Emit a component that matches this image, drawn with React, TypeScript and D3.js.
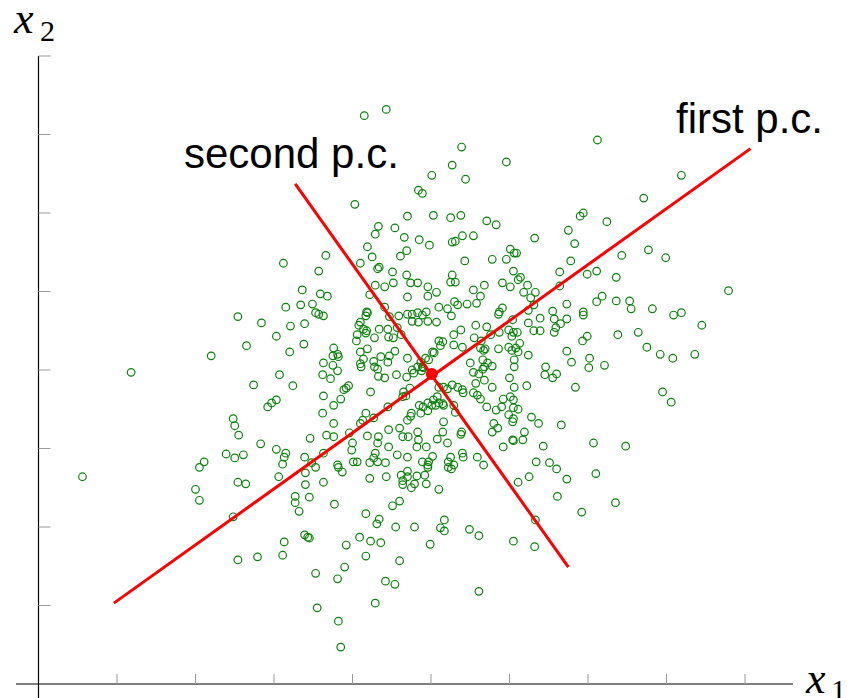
import React, { useEffect, useRef } from "react";
import * as d3 from "d3";

// sample coordinates (axis units, one tick = 1)
const x1Values = [
  3.12, 4.15, 4.43, 5.39, 5.27, 5.96, 5.01, 5.44, 4.84, 4.89,
  4.03, 4.70, 5.03, 5.25, 5.38, 5.71, 5.83, 4.33, 4.29, 4.54,
  4.66, 4.85, 4.98, 5.27, 5.31, 5.40, 5.54, 3.66, 4.19, 4.25,
  4.10, 4.61, 4.69, 4.34, 4.32, 3.57, 4.51, 4.69, 5.27, 5.43,
  5.78, 5.96, 6.01, 6.06, 6.09, 6.05, 7.12, 8.19, 7.71, 6.90,
  6.94, 7.24, 6.75, 6.32, 6.83, 6.78, 7.43, 7.77, 7.99, 6.64,
  6.99, 7.11, 7.36, 6.14, 1.18, 2.20, 2.54, 2.84, 3.15, 3.03,
  2.65, 3.21, 3.20, 3.07, 3.24, 2.74, 3.03, 2.97, 2.92, 2.48,
  2.50, 2.55, 2.83, 3.03, 3.15, 3.13, 3.11, 2.39, 2.50, 2.61,
  2.11, 2.05, 0.56, 2.00, 2.05, 2.54, 2.64, 3.06, 2.48, 3.13,
  3.11, 2.79, 2.54, 3.40, 3.40, 3.27, 3.27, 3.32, 3.45, 3.63,
  3.77, 3.53, 3.82, 3.87, 4.01, 4.06, 4.22, 4.32, 4.42, 4.22,
  4.43, 4.62, 4.70, 4.70, 4.64, 4.64, 4.75, 4.79, 4.82, 4.92,
  4.96, 4.94, 5.10, 5.22, 5.26, 5.67, 6.11, 4.60, 4.51, 4.17,
  4.34, 4.31, 4.55, 4.79, 5.17, 5.12, 5.17, 5.49, 5.61, 6.05,
  3.39, 3.43, 3.45, 4.09, 4.23, 4.36, 3.92, 4.99, 4.17, 4.60,
  3.90, 3.53, 3.81, 4.42, 4.54, 5.61, 3.55, 4.29, 3.82, 3.85,
  6.34, 6.51, 6.60, 6.25, 6.73, 7.10, 6.61, 7.35, 6.92, 6.33,
  6.32, 8.79, 7.18, 7.11, 7.36, 7.53, 7.55, 7.82, 8.09, 8.19,
  8.45, 6.73, 6.64, 6.55, 6.39, 6.57, 6.73, 6.65, 6.59, 6.57,
  6.94, 6.94, 6.99, 6.93, 7.38, 7.64, 7.75, 7.92, 8.08, 8.36,
  6.24, 6.31, 6.39, 6.24, 6.73, 6.79, 7.02, 7.01, 7.21, 6.46,
  6.45, 6.55, 6.60, 6.84, 6.22, 7.95, 8.06, 6.28, 6.37, 6.66,
  6.05, 6.19, 6.17, 6.05, 6.43, 7.07, 7.48, 6.05, 6.06, 6.18,
  6.27, 6.33, 6.31, 6.24, 6.23, 6.11, 6.05, 6.10, 6.04, 6.01,
  6.06, 6.06, 6.13, 3.36, 3.59, 3.68, 3.34, 3.49, 3.53, 3.57,
  3.63, 3.39, 3.38, 4.29, 4.41, 4.52, 4.22, 4.74, 4.83, 4.96,
  5.07, 5.25, 5.31, 5.54, 5.63, 5.68, 5.91, 4.70, 4.96, 5.30,
  5.34, 5.46, 5.58, 5.10, 5.21, 5.91, 5.86, 4.41, 4.18, 4.19,
  4.17, 4.47, 4.59, 4.70, 4.76, 4.83, 4.89, 4.94, 4.76, 4.84,
  4.96, 5.07, 5.26, 4.10, 4.08, 4.14, 4.18, 4.17, 4.06, 4.05,
  4.34, 4.45, 4.57, 4.28, 4.46, 4.52, 4.62, 5.57, 5.71, 5.76,
  5.87, 5.87, 5.29, 5.38, 5.10, 5.15, 5.12, 5.29, 5.40, 5.02,
  5.04, 4.87, 4.93, 4.97, 4.89, 5.55, 5.64, 5.63, 5.67, 5.69,
  5.86, 5.99, 6.03, 5.99, 6.03, 6.08, 6.11, 3.76, 3.75, 3.81,
  3.82, 3.63, 3.75, 3.81, 3.72, 3.62, 4.10, 4.19, 4.14, 4.11,
  4.10, 4.27, 4.32, 4.28, 4.36, 4.33, 4.41, 4.45, 4.47, 4.54,
  4.70, 4.56, 4.69, 4.76, 4.83, 4.78, 4.88, 4.90, 4.65, 4.73,
  4.64, 4.68, 5.10, 5.16, 5.21, 5.27, 5.34, 5.40, 5.41, 5.08,
  5.03, 5.10, 5.16, 5.29, 5.31, 5.54, 5.59, 5.57, 5.68, 5.50,
  5.66, 5.54, 5.61, 5.66, 5.68, 5.72, 5.78, 6.00, 6.01, 5.92,
  5.90, 5.83, 5.71, 5.78, 5.63, 5.80, 5.85, 5.99, 6.05, 6.11,
  6.04, 5.78, 5.39, 5.38, 5.16, 5.15, 5.21, 5.08, 4.85, 4.90,
  4.96, 5.01, 5.06, 5.15, 4.96, 4.87, 4.75, 4.74, 4.70, 4.60,
  4.64, 4.71, 4.83, 4.84, 4.82, 4.94, 5.02, 4.97, 5.25, 5.22,
  5.29, 5.40, 5.41, 5.92, 6.04, 5.59, 4.45, 4.23, 3.85, 3.76,
  3.63, 3.62, 3.92, 3.95, 3.89, 3.76, 4.17, 4.13, 4.10, 4.27,
  4.33, 4.32, 4.46, 4.19, 3.67, 3.76, 3.96, 4.00, 3.99, 3.46,
  3.39, 3.48, 3.63, 3.81, 4.29, 4.27, 4.46, 4.57, 4.70, 4.96,
  4.89,
];

const x2Values = [
  5.36, 7.24, 7.32, 6.84, 6.61, 6.65, 6.48, 6.43, 6.29, 6.25,
  6.11, 5.96, 5.97, 5.94, 5.97, 5.90, 5.85, 5.83, 5.73, 5.81,
  5.69, 5.66, 5.59, 5.63, 5.64, 5.71, 5.71, 5.46, 5.57, 5.44,
  5.36, 5.45, 5.52, 5.31, 5.29, 5.26, 5.25, 5.21, 5.21, 5.39,
  5.41, 5.41, 5.54, 5.49, 5.49, 5.26, 6.93, 6.48, 6.19, 5.96,
  6.00, 5.89, 5.78, 5.68, 5.61, 5.39, 5.46, 5.53, 5.43, 5.25,
  5.22, 5.26, 5.18, 5.18, 3.97, 4.18, 4.68, 4.60, 4.80, 4.43,
  4.31, 4.56, 4.23, 3.94, 3.80, 3.81, 3.62, 3.58, 3.53, 3.38,
  3.29, 3.17, 3.06, 2.99, 2.94, 2.89, 2.80, 2.93, 2.88, 2.92,
  2.83, 2.76, 2.64, 2.48, 2.34, 2.57, 2.55, 2.64, 2.13, 1.81,
  1.64, 1.62, 1.58, 2.69, 2.54, 2.39, 2.31, 2.20, 2.38, 2.57,
  2.29, 2.76, 2.76, 2.70, 2.83, 2.83, 2.82, 2.83, 2.82, 2.62,
  2.64, 2.66, 2.71, 2.64, 2.59, 2.54, 2.50, 2.55, 2.65, 2.66,
  2.76, 2.55, 2.48, 2.76, 2.74, 2.79, 2.57, 2.33, 2.27, 2.17,
  2.10, 2.04, 2.00, 2.00, 2.09, 1.99, 1.95, 1.97, 1.89, 1.82,
  1.90, 1.87, 1.86, 1.87, 1.82, 1.80, 1.77, 1.78, 1.63, 1.57,
  1.49, 1.41, 1.34, 1.31, 1.27, 1.18, 0.97, 1.03, 0.80, 0.47,
  2.83, 2.82, 2.74, 2.64, 2.61, 2.68, 2.39, 2.31, 2.19, 2.09,
  1.75, 5.01, 4.94, 4.87, 4.88, 4.88, 4.78, 4.78, 4.70, 4.73,
  4.57, 4.84, 5.07, 4.75, 4.66, 4.65, 4.65, 4.59, 4.54, 4.48,
  4.74, 4.70, 4.43, 4.37, 4.45, 4.48, 4.29, 4.20, 4.15, 4.20,
  4.60, 4.50, 4.50, 4.19, 4.24, 4.10, 4.15, 4.03, 4.06, 4.04,
  3.94, 3.90, 3.95, 3.78, 3.80, 3.72, 3.59, 3.40, 3.32, 3.30,
  3.38, 3.21, 3.11, 3.10, 3.03, 3.07, 3.03, 3.62, 3.78, 4.99,
  4.92, 4.99, 4.83, 4.76, 5.08, 5.15, 4.48, 4.48, 4.64, 5.06,
  4.04, 4.13, 4.34, 5.02, 4.97, 4.94, 4.83, 4.84, 4.73, 4.71,
  4.69, 4.59, 4.33, 5.08, 5.06, 5.11, 4.96, 5.11, 5.11, 5.06,
  4.99, 5.12, 5.12, 5.02, 4.94, 5.08, 5.11, 4.93, 4.94, 4.87,
  4.83, 4.84, 4.85, 4.80, 4.78, 4.79, 4.71, 4.80, 4.74, 4.73,
  4.69, 4.68, 4.69, 4.71, 4.71, 4.73, 4.70, 4.74, 4.62, 4.61,
  4.62, 4.61, 4.69, 4.61, 4.57, 4.52, 4.50, 4.47, 4.45, 4.37,
  4.52, 4.52, 4.54, 4.41, 4.42, 4.41, 4.45, 4.57, 4.55, 4.45,
  4.48, 4.74, 4.45, 4.51, 4.37, 4.36, 4.31, 4.32, 4.29, 4.23,
  4.22, 4.10, 4.15, 4.13, 4.04, 4.41, 4.37, 4.28, 4.25, 4.27,
  4.27, 4.51, 4.43, 4.29, 4.25, 4.28, 4.23, 4.28, 4.18, 4.20,
  4.17, 4.09, 4.06, 3.99, 3.89, 3.94, 4.23, 4.27, 4.14, 4.04,
  4.08, 4.11, 4.01, 4.04, 4.17, 3.92, 3.90, 4.10, 4.18, 4.24,
  4.15, 3.94, 3.91, 4.00, 4.04, 3.96, 3.99, 4.03, 3.72, 3.77,
  3.66, 3.67, 3.78, 3.78, 3.76, 3.81, 3.78, 3.75, 3.71, 3.66,
  3.62, 3.58, 3.55, 3.55, 3.46, 3.71, 3.68, 3.83, 3.87, 4.09,
  4.13, 3.97, 3.95, 4.01, 4.04, 4.09, 4.05, 3.90, 3.66, 3.63,
  3.53, 3.49, 3.53, 3.78, 3.63, 3.32, 3.26, 3.43, 3.52, 3.50,
  3.34, 3.21, 3.21, 3.18, 3.34, 3.21, 3.07, 3.12, 3.55, 3.53,
  3.58, 3.55, 3.55, 3.57, 3.48, 3.45, 3.45, 3.41, 3.36, 3.26,
  3.15, 3.15, 3.21, 3.11, 3.02, 3.02, 2.90, 2.83, 2.89, 2.83,
  2.79, 2.94, 2.89, 3.02, 3.11, 2.89, 3.53, 3.72, 3.63, 3.55,
  3.67, 3.45, 3.77, 3.80, 3.75, 3.32, 3.45, 3.36, 3.32, 3.39,
  3.15, 3.07, 3.24, 3.16, 3.17, 3.15, 3.20, 3.07, 2.98, 3.13,
  2.89, 2.82, 2.94, 2.79, 2.94, 2.88, 3.02, 2.92, 2.89, 2.79,
  2.83,
];

// principal component segments and the mean
const pcNames = ["first p.c.", "second p.c."];
const pcStartX = [0.96, 3.27];
const pcStartY = [1.03, 6.37];
const pcEndX = [9.07, 6.75];
const pcEndY = [6.82, 1.49];
const meanX = 5.01;
const meanY = 3.95;

const xTicks = [1, 2, 3, 4, 5, 6, 7, 8, 9];
const yTicks = [1, 2, 3, 4, 5, 6, 7, 8];

const App = () => {
  const svgRef = useRef<SVGSVGElement>(null);

  useEffect(() => {
    const svg = d3.select(svgRef.current);
    svg.selectAll("*").remove();

    const w = 853;
    const h = 698;
    svg.attr("width", w).attr("height", h).style("background", "#fff");

    // one tick is 78.5px on both axes
    const x = d3.scaleLinear().domain([0, 10]).range([38.5, 823.5]);
    const y = d3.scaleLinear().domain([0, 10]).range([684, -101]);

    // axes
    svg.append("line")
      .attr("x1", 16).attr("x2", 793)
      .attr("y1", y(0)).attr("y2", y(0))
      .attr("stroke", "#000").attr("stroke-width", 1.2);
    svg.append("line")
      .attr("x1", x(0)).attr("x2", x(0))
      .attr("y1", y(8)).attr("y2", h)
      .attr("stroke", "#000").attr("stroke-width", 1.2);

    svg.append("g")
      .selectAll("line")
      .data(xTicks)
      .join("line")
      .attr("x1", (d) => x(d)).attr("x2", (d) => x(d))
      .attr("y1", y(0)).attr("y2", y(0) - 10)
      .attr("stroke", "#999").attr("stroke-width", 1);
    svg.append("g")
      .selectAll("line")
      .data(yTicks)
      .join("line")
      .attr("x1", x(0)).attr("x2", x(0) + 12)
      .attr("y1", (d) => y(d)).attr("y2", (d) => y(d))
      .attr("stroke", "#999").attr("stroke-width", 1);

    // points
    const pts = x1Values.map((v, i) => [v, x2Values[i]]);
    svg.append("g")
      .selectAll("circle")
      .data(pts)
      .join("circle")
      .attr("cx", (d) => x(d[0]))
      .attr("cy", (d) => y(d[1]))
      .attr("r", 3.8)
      .attr("fill", "none")
      .attr("stroke", "#0b820b")
      .attr("stroke-width", 1.2);

    // principal components
    svg.append("g")
      .selectAll("line")
      .data(pcNames)
      .join("line")
      .attr("x1", (_, i) => x(pcStartX[i]))
      .attr("y1", (_, i) => y(pcStartY[i]))
      .attr("x2", (_, i) => x(pcEndX[i]))
      .attr("y2", (_, i) => y(pcEndY[i]))
      .attr("stroke", "#ff0000")
      .attr("stroke-width", 3);
    svg.append("circle")
      .attr("cx", x(meanX)).attr("cy", y(meanY))
      .attr("r", 6).attr("fill", "#ff0000");

    const sans = "'Liberation Sans', Arial, Helvetica, sans-serif";
    svg.append("text")
      .attr("x", 676).attr("y", 133)
      .attr("font-family", sans).attr("font-size", 42)
      .text(pcNames[0]);
    svg.append("text")
      .attr("x", 184).attr("y", 168)
      .attr("font-family", sans).attr("font-size", 42)
      .text(pcNames[1]);

    // axis labels
    const serif = "'Liberation Serif', 'Times New Roman', serif";
    const lab2 = svg.append("text").attr("font-family", serif);
    lab2.append("tspan").attr("x", 14).attr("y", 33)
      .attr("font-size", 44).attr("font-style", "italic").text("x");
    lab2.append("tspan").attr("x", 40).attr("y", 41)
      .attr("font-size", 30).text("2");

    const lab1 = svg.append("text").attr("font-family", serif);
    lab1.append("tspan").attr("x", 806).attr("y", 693)
      .attr("font-size", 44).attr("font-style", "italic").text("x");
    lab1.append("tspan").attr("x", 831).attr("y", 700)
      .attr("font-size", 30).text("1");
  }, []);

  return (
    <div style={{ position: "absolute", left: 0, top: 0 }}>
      <svg ref={svgRef} style={{ display: "block" }}></svg>
    </div>
  );
};

export default App;
